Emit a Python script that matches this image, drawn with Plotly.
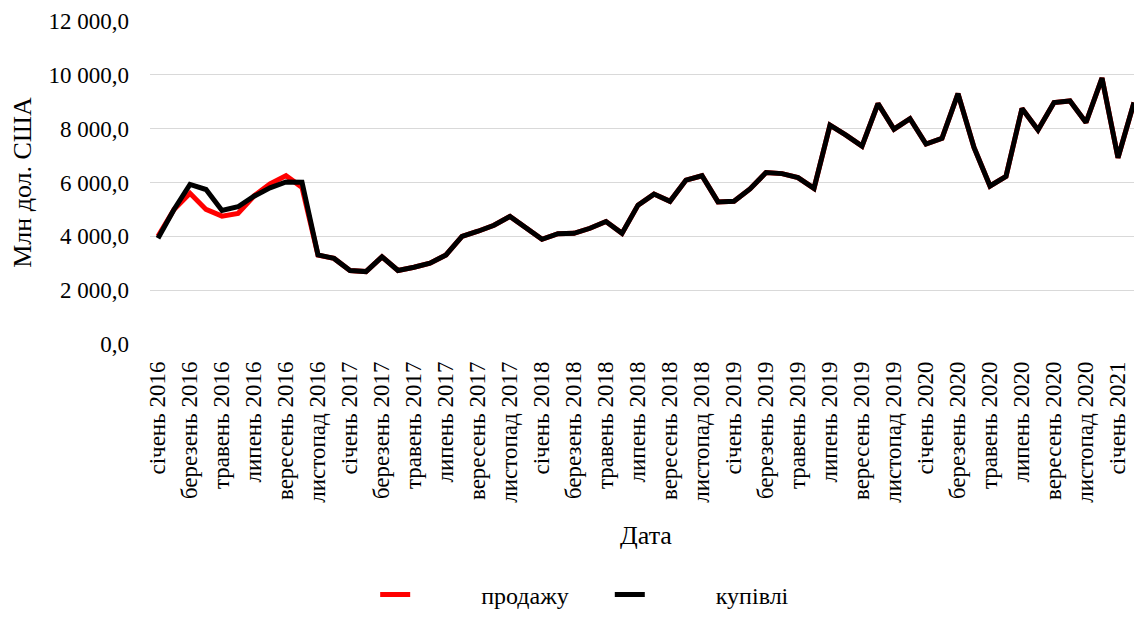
import plotly.graph_objects as go

months = ["січень", "лютий", "березень", "квітень", "травень", "червень",
          "липень", "серпень", "вересень", "жовтень", "листопад", "грудень"]
dates = [f"{months[m]} {y}" for y in range(2016, 2022) for m in range(12)][:62]

tick_labels = [
    "січень 2016", "березень 2016", "травень 2016", "липень 2016", "вересень 2016", "листопад 2016",
    "січень 2017", "березень 2017", "травень 2017", "липень 2017", "вересень 2017", "листопад 2017",
    "січень 2018", "березень 2018", "травень 2018", "липень 2018", "вересень 2018", "листопад 2018",
    "січень 2019", "березень 2019", "травень 2019", "липень 2019", "вересень 2019", "листопад 2019",
    "січень 2020", "березень 2020", "травень 2020", "липень 2020", "вересень 2020", "листопад 2020",
    "січень 2021",
]

kupivli = [
    3930, 5000, 5930, 5740, 4960, 5100, 5490, 5800, 6020, 6010, 3310, 3180,
    2730, 2690, 3240, 2730, 2850, 3000, 3310, 4000, 4190, 4410, 4740, 4340,
    3890, 4100, 4110, 4300, 4550, 4110, 5160, 5570, 5300, 6090, 6250, 5280,
    5300, 5760, 6370, 6330, 6180, 5780, 8130, 7760, 7350, 8930, 7980, 8370,
    7430, 7640, 9300, 7300, 5870, 6230, 8750, 7950, 8970, 9030, 8230, 9880,
    6920, 8970,
]

prodazhu = [
    4000, 5000, 5600, 5000, 4750, 4850, 5500, 5950, 6250, 5820, 3300, 3180,
    2730, 2690, 3240, 2730, 2850, 3000, 3310, 4000, 4190, 4410, 4740, 4340,
    3890, 4100, 4110, 4300, 4550, 4110, 5160, 5570, 5300, 6090, 6250, 5280,
    5300, 5760, 6370, 6330, 6180, 5780, 8130, 7760, 7350, 8930, 7980, 8370,
    7430, 7640, 9300, 7300, 5870, 6230, 8750, 7950, 8970, 9030, 8230, 9880,
    6920, 8970,
]

FONT = "Liberation Serif"
NB = "\u00a0"

fig = go.Figure()
fig.add_trace(go.Scatter(x=dates, y=prodazhu, mode="lines", name=NB * 11 + "продажу" + NB * 6,
                         line=dict(color="#ff0000", width=5)))
fig.add_trace(go.Scatter(x=dates, y=kupivli, mode="lines", name=NB * 11 + "купівлі",
                         line=dict(color="#000000", width=5)))

fig.update_layout(
    width=1134, height=610,
    margin=dict(l=142, r=0, t=13, b=262),
    paper_bgcolor="white", plot_bgcolor="white",
    font=dict(family=FONT, size=23, color="black"),
    separators=", ",
    showlegend=True,
    legend=dict(orientation="h", x=0.227, xanchor="left", xref="paper",
                y=-0.777, yanchor="middle",
                font=dict(family=FONT, size=24, color="black"),
                tracegroupgap=0, traceorder="normal"),
    xaxis=dict(
        type="category", categoryorder="array", categoryarray=dates,
        range=[-0.5, len(dates) - 0.5],
        tickmode="array", tickvals=dates[::2], ticktext=tick_labels,
        tickangle=-90, showgrid=False, showline=False, zeroline=False,
        ticks="", ticklabelstandoff=12,
        title=dict(text="Дата", font=dict(family=FONT, size=26, color="black"), standoff=23),
        tickfont=dict(family=FONT, size=23, color="black"),
    ),
    yaxis=dict(
        range=[0, 12000], tickmode="linear", tick0=0, dtick=2000,
        tickformat=",.1f", showgrid=True, gridcolor="#d9d9d9", gridwidth=1,
        zeroline=False, showline=False, ticks="", ticklabelstandoff=20,
        title=dict(text="Млн дол. США", font=dict(family=FONT, size=26, color="black"), standoff=10),
        tickfont=dict(family=FONT, size=23, color="black"),
    ),
)

fig.write_html("out.html")
